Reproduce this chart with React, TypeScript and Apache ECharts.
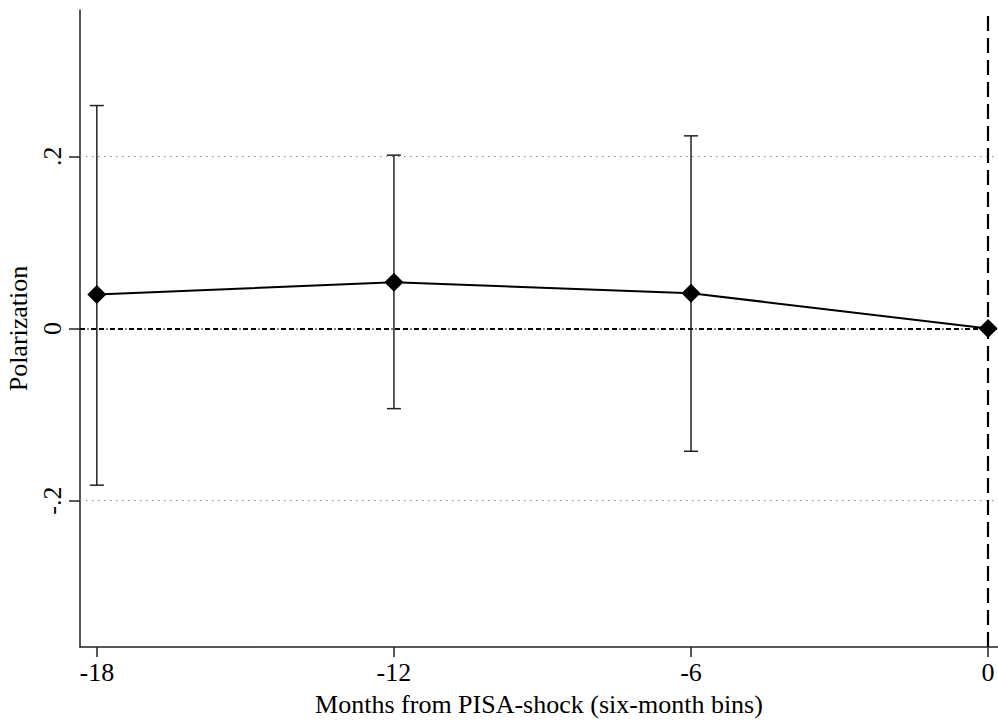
import React, { useEffect, useRef } from "react";
import * as echarts from "echarts";

const xValues = [-18, -12, -6, 0];
const estimates = [0.0394, 0.0537, 0.041, 0];
const ciLower = [-0.182, -0.0931, -0.1426, 0];
const ciUpper = [0.259, 0.2014, 0.2238, 0];
const xTicks = [-18, -12, -6, 0];
const yTicks = [-0.2, 0, 0.2];
const yTickLabels = ["-.2", "0", ".2"];
const xTitle = "Months from PISA-shock (six-month bins)";
const yTitle = "Polarization";

const FONT = "'Liberation Serif', 'Times New Roman', serif";

export default function App() {
  const ref = useRef<HTMLDivElement>(null);
  useEffect(() => {
    if (!ref.current) return;
    const chart = echarts.init(ref.current, undefined, { renderer: "svg" });
    const ciData = xValues
      .map((x, i) => [x, ciLower[i], ciUpper[i]])
      .filter((d) => d[1] !== d[2]);
    const option: any = {
      animation: false,
      backgroundColor: "#fff",
      grid: {
        left: 80,
        top: 10,
        right: 0,
        bottom: 75,
        containLabel: false,
        outerBoundsMode: "none",
      },
      xAxis: {
        type: "value",
        min: -18.34,
        max: 0.2,
        name: xTitle,
        nameLocation: "middle",
        nameGap: 44,
        nameTextStyle: { fontFamily: FONT, fontSize: 26, color: "#000" },
        axisLine: { show: true, onZero: false, lineStyle: { color: "#222", width: 1.5 } },
        axisTick: { show: true, length: 10, customValues: xTicks, lineStyle: { color: "#222", width: 1.5 } },
        axisLabel: {
          customValues: xTicks,
          margin: 12,
          fontFamily: FONT,
          fontSize: 26,
          color: "#000",
          formatter: (v: number) => String(Math.round(v)),
        },
        splitLine: { show: false },
      },
      yAxis: {
        type: "value",
        min: -0.37,
        max: 0.37,
        name: yTitle,
        nameLocation: "middle",
        nameGap: 44,
        nameRotate: 90,
        nameTextStyle: { fontFamily: FONT, fontSize: 26, color: "#000" },
        axisLine: { show: true, onZero: false, lineStyle: { color: "#222", width: 1.5 } },
        axisTick: { show: true, length: 11, customValues: yTicks, lineStyle: { color: "#222", width: 1.5 } },
        axisLabel: {
          customValues: yTicks,
          rotate: 90,
          margin: 15,
          fontFamily: FONT,
          fontSize: 26,
          color: "#000",
          formatter: (v: number) => {
            const idx = yTicks.findIndex((t) => Math.abs(t - v) < 1e-6);
            return idx >= 0 ? yTickLabels[idx] : "";
          },
        },
        splitLine: { show: false },
      },
      series: [
        {
          type: "custom",
          z: 2,
          silent: true,
          encode: { x: 0, y: [1, 2] },
          data: ciData,
          renderItem: (params: any, api: any) => {
            const x = api.value(0);
            const lo = api.coord([x, api.value(1)]);
            const hi = api.coord([x, api.value(2)]);
            const w = 7;
            const style = { stroke: "#222", lineWidth: 1.5 };
            return {
              type: "group",
              children: [
                { type: "line", shape: { x1: lo[0], y1: lo[1], x2: hi[0], y2: hi[1] }, style },
                { type: "line", shape: { x1: lo[0] - w, y1: lo[1], x2: lo[0] + w, y2: lo[1] }, style },
                { type: "line", shape: { x1: hi[0] - w, y1: hi[1], x2: hi[0] + w, y2: hi[1] }, style },
              ],
            };
          },
        },
        {
          type: "line",
          z: 3,
          data: xValues.map((x, i) => [x, estimates[i]]),
          symbol: "diamond",
          symbolSize: 19,
          itemStyle: { color: "#000" },
          lineStyle: { color: "#000", width: 2 },
          markLine: {
            silent: true,
            symbol: "none",
            label: { show: false },
            z: 1,
            data: [
              { yAxis: 0.2, lineStyle: { color: "#888", width: 1, type: [1.5, 4.5] } },
              { yAxis: -0.2, lineStyle: { color: "#888", width: 1, type: [1.5, 4.5] } },
              { yAxis: 0, lineStyle: { color: "#000", width: 2, type: [5, 2.5, 1, 2.5, 5, 3] } },
              { xAxis: 0, lineStyle: { color: "#000", width: 2.2, type: [15, 7] } },
            ],
          },
        },
      ],
    };
    chart.setOption(option);
    return () => chart.dispose();
  }, []);
  return (
    <div
      ref={ref}
      style={{ position: "fixed", left: 0, top: 0, width: 998, height: 722, background: "#fff" }}
    />
  );
}
